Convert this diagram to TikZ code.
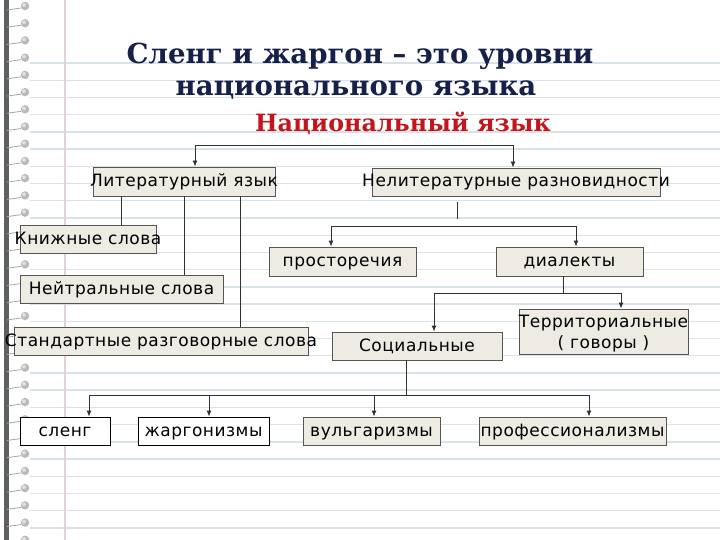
\documentclass[tikz,border=0pt]{standalone}
\usepackage{fontspec}
\setmainfont{DejaVu Sans}
\newfontfamily\boxfont[LetterSpace=3]{DejaVu Sans}
\newfontfamily\titlefont{DejaVu Serif}
\usetikzlibrary{arrows.meta,calc}
\definecolor{navy}{RGB}{22,32,72}
\definecolor{redt}{RGB}{196,20,28}
\definecolor{boxfill}{RGB}{238,235,227}
\definecolor{boxdraw}{RGB}{85,85,85}
\definecolor{ruled}{RGB}{214,227,233}
\definecolor{marginc}{RGB}{228,208,220}
\definecolor{barc}{RGB}{92,96,96}
\definecolor{connc}{RGB}{50,50,50}
\tikzset{
  ruledline/.style={draw=ruled, line width=1.4pt},
  box/.style={draw=boxdraw, fill=boxfill, line width=0.9pt, inner sep=0pt,
    minimum height=28pt, text height=14pt, text depth=4pt, text=black,
    font=\boxfont\fontsize{17}{21}\selectfont},
  wbox/.style={box, draw=black, fill=white},
  conn/.style={draw=connc, line width=0.9pt},
  arr/.style={conn, -{Latex[length=6pt,width=5pt]}},
  both/.style={conn, {Latex[length=6pt,width=5pt]}-{Latex[length=6pt,width=5pt]}},
  ttl/.style={anchor=base, text=navy, font=\titlefont\fontsize{27.6}{32}\selectfont\bfseries},
}
\begin{document}
\begin{tikzpicture}[x=1pt,y=-1pt]
\useasboundingbox (0,0) rectangle (720,540);
\fill[white] (0,0) rectangle (720,540);
% notebook paper
\foreach \k in {0,...,27} \draw[ruledline] (30,63+17.22*\k) -- (720,63+17.22*\k);
\draw[draw=marginc, line width=1.5pt] (65,0) -- (65,540);
\fill[barc] (4,0) rectangle (9,540);
\foreach \k in {0,...,31} {
  \draw[gray!70, line width=0.8pt] (7,10+17.22*\k) -- (21,8+17.22*\k);
  \fill[gray!55] (25,6+17.22*\k) circle (4.2);
  \fill[gray!25] (24,5+17.22*\k) circle (2);
}
% titles
\node[ttl] (t1) at (360,64) {Сленг и жаргон – это уровни};
\node[ttl] (t2) at (356,96) {национального языка};
\node[ttl, text=redt, font=\titlefont\fontsize{23.8}{28}\selectfont\bfseries] (nat) at (403,132) {Национальный язык};
% boxes
\node[box, minimum width=182pt, minimum height=29pt] (lit) at (184,181.5) {\makebox[0pt]{Литературный язык}};
\node[box, minimum width=288pt] (nelit) at (516,182) {\makebox[0pt]{Нелитературные разновидности}};
\node[box, minimum width=136pt] (kn) at (88,239) {\makebox[0pt]{Книжные слова}};
\node[box, minimum width=203pt] (neut) at (121.5,289) {\makebox[0pt]{Нейтральные слова}};
\node[box, minimum width=294pt] (std) at (161,341) {\makebox[0pt]{Стандартные разговорные слова}};
\node[box, minimum width=147pt, minimum height=29pt] (prost) at (342.5,261.5) {\makebox[0pt]{просторечия}};
\node[box, minimum width=147pt, minimum height=29pt] (dial) at (569.5,261.5) {\makebox[0pt]{диалекты}};
\node[box, minimum width=170pt] (soc) at (417,346) {\makebox[0pt]{Социальные}};
\node[box, minimum width=169pt, minimum height=45pt, text height=27pt, text depth=14pt] (terr) at (603.5,331.5) {\makebox[0pt]{\begin{tabular}{@{}c@{}}Территориальные\\( говоры )\end{tabular}}};
\node[wbox, minimum width=90pt] (sleng) at (65,431) {\makebox[0pt]{сленг}};
\node[wbox, minimum width=131pt] (zharg) at (203.5,431) {\makebox[0pt]{жаргонизмы}};
\node[box, minimum width=137pt] (vulg) at (371.5,431) {\makebox[0pt]{вульгаризмы}};
\node[box, minimum width=187pt] (prof) at (572.5,431) {\makebox[0pt]{профессионализмы}};
% connectors from national language
\coordinate (j1) at (195,145);
\coordinate (j2) at (513,145);
\draw[both] (j1 |- lit.north) -- (j1) -- (j2) -- (j2 |- nelit.north);
% literary branches
\coordinate (l1) at ($(lit.south west)+(29,0)$);
\draw[conn] (l1) -- (l1 |- kn.north);
\draw[conn] (lit.south) -- (lit.south |- neut.north);
\coordinate (l3) at ($(lit.south west)+(148,0)$);
\draw[conn] (l3) -- (l3 |- std.north);
% non-literary
\coordinate (n0) at ($(nelit.south)+(-59,6)$);
\draw[conn] (n0) -- ++(0,17);
\coordinate (s1) at (331,226);
\coordinate (s2) at (576,226);
\draw[both] (s1 |- prost.north) -- (s1) -- (s2) -- (s2 |- dial.north);
% dialects
\coordinate (d0) at ($(dial.south)+(-6.5,0)$);
\coordinate (d1) at (434,293);
\coordinate (d2) at (621,293);
\draw[conn] (d0) -- (d0 |- d1);
\draw[both] (d1 |- soc.north) -- (d1) -- (d2) -- (d2 |- terr.north);
% social
\coordinate (c0) at ($(soc.south)+(-11,0)$);
\coordinate (b1) at (89,395);
\coordinate (b2) at (209,395);
\coordinate (b3) at (374,395);
\coordinate (b4) at (589,395);
\draw[conn] (c0) -- (c0 |- b1);
\draw[both] (b1 |- sleng.north) -- (b1) -- (b4) -- (b4 |- prof.north);
\draw[arr] (b2) -- (b2 |- zharg.north);
\draw[arr] (b3) -- (b3 |- vulg.north);
\end{tikzpicture}
\end{document}
